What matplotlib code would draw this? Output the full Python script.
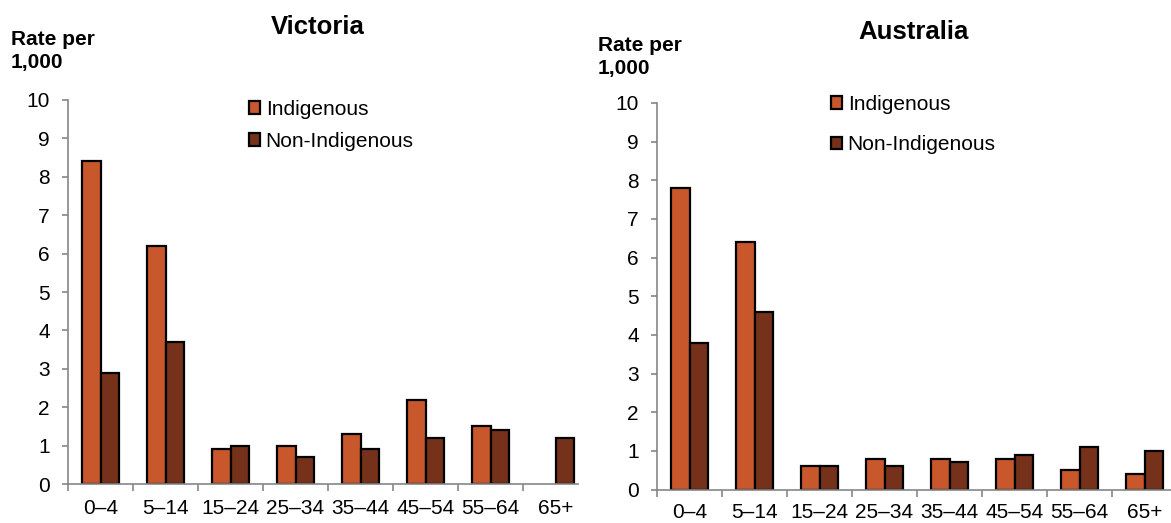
import matplotlib.pyplot as plt
import numpy as np

plt.rcParams['font.family'] = ['Liberation Sans', 'DejaVu Sans']

age_groups = ['0–4', '5–14', '15–24', '25–34', '35–44', '45–54', '55–64', '65+']
vic_indigenous = [8.4, 6.2, 0.9, 1.0, 1.3, 2.2, 1.5, np.nan]
vic_non_indigenous = [2.9, 3.7, 1.0, 0.7, 0.9, 1.2, 1.4, 1.2]
aus_indigenous = [7.8, 6.4, 0.6, 0.8, 0.8, 0.8, 0.5, 0.4]
aus_non_indigenous = [3.8, 4.6, 0.6, 0.6, 0.7, 0.9, 1.1, 1.0]

c_ind = '#C9572C'
c_non = '#75311A'
grey = '#868686'

W, H = 1171, 523
fig = plt.figure(figsize=(W / 100, H / 100), dpi=100)


def px(x0, y0, x1, y1):
    # pixel box (top-left origin) -> figure fraction rect
    return [x0 / W, 1 - y1 / H, (x1 - x0) / W, (y1 - y0) / H]


def draw(ax, ind, non, title, title_xy, label_xy, leg_xy, leg_space, xright, xpad):
    x = np.arange(len(age_groups))
    w = 0.29
    ax.bar(x - w / 2, ind, w, color=c_ind, edgecolor='black', linewidth=1.6, label='Indigenous')
    ax.bar(x + w / 2, non, w, color=c_non, edgecolor='black', linewidth=1.6, label='Non-Indigenous')
    ax.set_xlim(-0.5, xright)
    ax.set_ylim(0, 10)
    ax.set_yticks(range(0, 11))
    ax.set_xticks(x)
    ax.set_xticklabels(age_groups)
    ax.set_xticks(np.arange(-0.5, len(age_groups) - 0.5, 1), minor=True)
    for s in ['top', 'right']:
        ax.spines[s].set_visible(False)
    for s in ['left', 'bottom']:
        ax.spines[s].set_color(grey)
        ax.spines[s].set_linewidth(1.2)
    ax.tick_params(axis='x', which='major', length=0, pad=xpad, labelsize=15)
    ax.tick_params(axis='x', which='minor', length=5, width=1.2, color=grey)
    ax.tick_params(axis='y', length=4, width=1.2, color=grey, pad=9, labelsize=15)

    fig.text(title_xy[0] / W, 1 - title_xy[1] / H, title, ha='center', va='center',
             fontsize=18.5, fontweight='bold')
    fig.text(label_xy[0] / W, 1 - label_xy[1] / H, 'Rate per\n1,000', ha='left', va='top',
             fontsize=15, fontweight='bold', linespacing=1.25)
    ax.legend(loc='upper left', bbox_to_anchor=(leg_xy[0] / W, 1 - leg_xy[1] / H),
              bbox_transform=fig.transFigure, frameon=False, fontsize=15,
              handlelength=0.55, handleheight=0.55, handletextpad=0.25,
              borderpad=0, borderaxespad=0, labelspacing=leg_space)


ax1 = fig.add_axes(px(68, 100, 578, 484))
draw(ax1, vic_indigenous, vic_non_indigenous, 'Victoria', (318, 27), (11, 30),
     (249, 100), 0.62, -0.5 + 510 / 65, 11)

ax2 = fig.add_axes(px(657, 103, 1171, 489.5))
draw(ax2, aus_indigenous, aus_non_indigenous, 'Australia', (914, 32), (598, 36),
     (831, 95), 1.02, -0.5 + 514 / 65, 10)

fig.savefig('out.png', dpi=100)
